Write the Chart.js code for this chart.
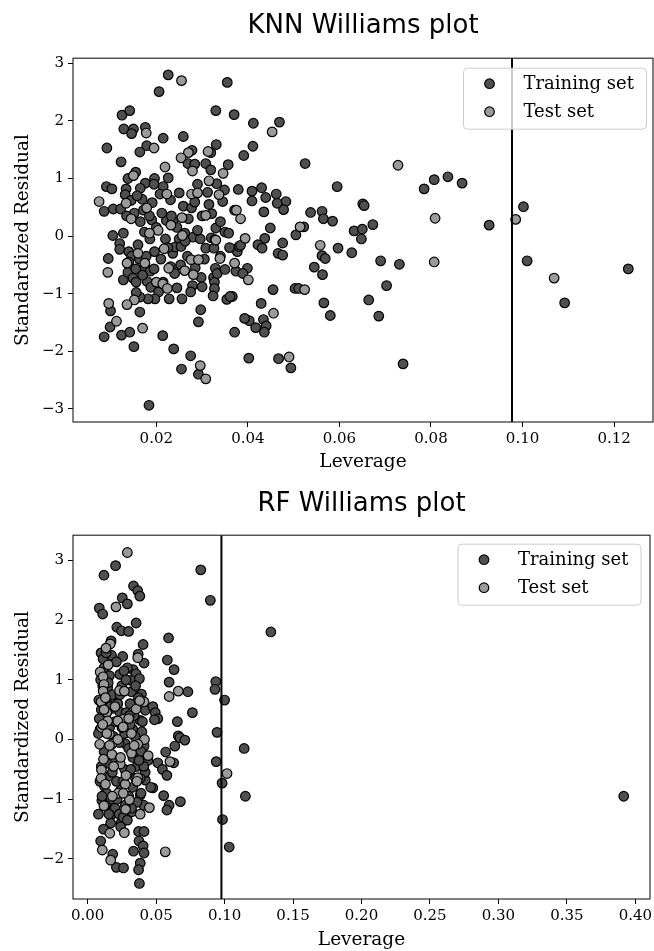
<!DOCTYPE html>
<html>
<head>
<meta charset="utf-8">
<script src="https://cdn.jsdelivr.net/npm/chart.js@4.4.1/dist/chart.umd.min.js"></script>
<style>
  html, body { margin: 0; padding: 0; background: #fff; }
  .plot { width: 654px; position: relative; }
  canvas { display: block; }
</style>
</head>
<body>
<div class="plot"><canvas id="knn" width="654" height="475"></canvas></div>
<div class="plot"><canvas id="rf" width="654" height="476"></canvas></div>
<script>
// leverage threshold h* (same for both models)
let hStar = 0.0977;

// ---- KNN Williams plot ----
const knnTraining = [
  [0.0226,2.80],[0.0355,2.67],[0.0206,2.51],[0.0125,2.10],[0.0142,2.18],[0.0330,2.18],[0.0370,2.11],[0.0412,1.96],
  [0.0469,1.98],[0.0129,1.86],[0.0150,1.86],[0.0146,1.78],[0.0176,1.89],[0.0215,1.70],[0.0259,1.73],[0.0092,1.53],
  [0.0179,1.57],[0.0164,1.46],[0.0278,1.49],[0.0331,1.59],[0.0319,1.45],[0.0411,1.56],[0.0391,1.40],[0.0123,1.29],
  [0.0269,1.26],[0.0284,1.25],[0.0308,1.26],[0.0357,1.24],[0.0525,1.26],[0.0155,1.11],[0.0319,1.15],[0.0138,1.00],
  [0.0196,1.00],[0.0226,1.01],[0.0091,0.86],[0.0103,0.82],[0.0134,0.82],[0.0176,0.92],[0.0165,0.83],[0.0195,0.90],
  [0.0215,0.86],[0.0332,0.91],[0.0349,0.80],[0.0379,0.81],[0.0409,0.78],[0.0430,0.84],[0.0409,0.61],[0.0595,0.86],
  [0.0785,0.82],[0.0807,0.98],[0.0837,1.03],[0.0868,0.92],[0.0086,0.43],[0.0106,0.47],[0.0132,0.72],[0.0169,0.64],
  [0.0191,0.58],[0.0208,0.73],[0.0231,0.63],[0.0259,0.52],[0.0277,0.49],[0.0284,0.59],[0.0312,0.76],[0.0371,0.45],
  [0.0439,0.67],[0.0462,0.73],[0.0483,0.60],[0.0478,0.46],[0.0464,0.57],[0.0435,0.42],[0.0537,0.41],[0.0562,0.43],
  [0.0565,0.30],[0.0585,0.26],[0.0651,0.56],[0.0654,0.53],[0.0927,0.19],[0.1002,0.51],[0.0122,0.47],[0.0152,0.40],
  [0.0135,0.35],[0.0165,0.25],[0.0190,0.28],[0.0222,0.27],[0.0236,0.27],[0.0233,0.35],[0.0321,0.39],[0.0330,0.14],
  [0.0350,0.07],[0.0358,0.05],[0.0449,0.14],[0.0522,0.16],[0.0505,0.02],[0.0632,0.09],[0.0650,0.12],[0.0673,0.20],
  [0.0105,0.01],[0.0174,0.07],[0.0186,-0.05],[0.0220,-0.05],[0.0250,-0.05],[0.0280,-0.02],[0.0296,-0.05],[0.0320,-0.03],
  [0.0437,-0.04],[0.0648,-0.05],[0.0120,-0.13],[0.0120,-0.23],[0.0095,-0.39],[0.0140,-0.27],[0.0146,-0.35],[0.0128,-0.76],
  [0.0138,-0.63],[0.0155,-0.57],[0.0149,-0.73],[0.0156,-0.80],[0.0175,-0.53],[0.0180,-0.79],[0.0187,-0.61],[0.0188,-0.89],
  [0.0163,-0.40],[0.0196,-0.27],[0.0195,-0.57],[0.0205,-0.97],[0.0236,-0.30],[0.0231,-0.53],[0.0241,-0.19],[0.0254,-0.18],
  [0.0263,-0.09],[0.0253,-0.50],[0.0279,-0.86],[0.0275,-0.97],[0.0298,-0.72],[0.0308,-0.21],[0.0326,-0.21],[0.0329,-0.56],
  [0.0325,-0.72],[0.0327,-0.80],[0.0327,-0.91],[0.0324,-1.04],[0.0333,-0.65],[0.0350,-0.58],[0.0374,-0.61],[0.0377,-0.27],
  [0.0381,-0.18],[0.0384,-0.16],[0.0399,-0.56],[0.0389,-0.65],[0.0422,-0.15],[0.0431,-0.21],[0.0366,-1.05],[0.0354,-1.10],
  [0.0361,-1.05],[0.0455,-0.93],[0.0466,-0.30],[0.0476,-0.33],[0.0476,-0.12],[0.0545,-0.54],[0.0562,-0.34],[0.0569,-0.39],
  [0.0563,-0.67],[0.0597,-0.21],[0.0627,-0.29],[0.0690,-0.43],[0.0731,-0.49],[0.1010,-0.43],[0.0503,-0.91],[0.0511,-0.91],
  [0.0703,-0.86],[0.1231,-0.57],[0.1092,-1.16],[0.0664,-1.11],[0.0566,-1.16],[0.0686,-1.39],[0.0580,-1.38],[0.0429,-1.17],
  [0.0434,-1.45],[0.0440,-1.56],[0.0436,-1.67],[0.0417,-1.59],[0.0403,-1.47],[0.0393,-1.43],[0.0371,-1.67],[0.0297,-1.28],
  [0.0292,-1.49],[0.0256,-1.09],[0.0228,-1.09],[0.0197,-1.09],[0.0182,-1.09],[0.0164,-1.06],[0.0156,-0.98],[0.0100,-1.30],
  [0.0099,-1.58],[0.0164,-1.32],[0.0086,-1.75],[0.0124,-1.72],[0.0142,-1.67],[0.0151,-1.92],[0.0214,-1.73],[0.0238,-1.96],
  [0.0275,-2.08],[0.0292,-2.40],[0.0255,-2.31],[0.0402,-2.12],[0.0467,-2.13],[0.0494,-2.29],[0.0739,-2.22],[0.0184,-2.94],
  [0.0145,0.62],[0.0158,0.70],[0.0172,0.45],[0.0185,0.35],[0.0200,0.15],[0.0212,0.40],[0.0245,0.15],[0.0262,0.05],
  [0.0270,0.30],[0.0290,0.10],[0.0300,0.35],[0.0315,0.55],[0.0340,0.25],[0.0345,0.60],[0.0160,-0.15],[0.0178,-0.35],
  [0.0210,-0.40],[0.0225,-0.20],[0.0240,-0.65],[0.0268,-0.35],[0.0285,-0.55],[0.0305,-0.40],[0.0340,-0.35],[0.0360,-0.20],
  [0.0170,-0.68],[0.0215,-0.80],[0.0245,-0.90],[0.0300,-0.88],[0.0140,-0.45],[0.0128,0.05],[0.0250,0.75],[0.0290,0.90]
];
const knnTest = [
  [0.0255,2.70],[0.0178,1.79],[0.0453,1.81],[0.0195,1.53],[0.0270,1.45],[0.0313,1.47],[0.0254,1.36],[0.0728,1.23],
  [0.0219,1.20],[0.0279,1.13],[0.0150,1.05],[0.0346,1.09],[0.0315,0.96],[0.0075,0.60],[0.0134,0.57],[0.0179,0.49],
  [0.0223,0.73],[0.0277,0.73],[0.0290,0.75],[0.0337,0.72],[0.0375,0.45],[0.0384,0.30],[0.0809,0.31],[0.0985,0.29],
  [0.0232,0.19],[0.0256,0.32],[0.0308,0.36],[0.0514,0.16],[0.0204,0.10],[0.0257,0.01],[0.0328,-0.06],[0.0394,-0.04],
  [0.0094,-0.63],[0.0136,-0.47],[0.0175,-0.47],[0.0200,-0.80],[0.0214,-0.83],[0.0224,-0.91],[0.0217,-0.22],[0.0227,-0.56],
  [0.0262,-0.60],[0.0276,-0.41],[0.0292,-0.41],[0.0281,-0.67],[0.0339,-0.39],[0.0330,-0.07],[0.0371,-0.47],[0.0401,-0.76],
  [0.0558,-0.16],[0.0807,-0.45],[0.0524,-0.93],[0.1069,-0.73],[0.0456,-1.34],[0.0152,-1.11],[0.0136,-1.19],[0.0096,-1.17],
  [0.0113,-1.48],[0.0170,-1.60],[0.0296,-2.25],[0.0308,-2.48],[0.0490,-2.10],[0.0145,0.30],[0.0185,0.05],[0.0160,-0.30]
];
const knnXTicks = [0.02, 0.04, 0.06, 0.08, 0.10, 0.12];
const knnYTicks = [-3, -2, -1, 0, 1, 2, 3];

// ---- RF Williams plot ----
const rfTraining = [
  [0.0204,2.91],[0.0119,2.75],[0.0826,2.84],[0.0335,2.57],[0.0366,2.49],[0.0381,2.40],[0.0253,2.37],[0.0290,2.27],
  [0.0896,2.33],[0.0085,2.20],[0.0110,2.10],[0.0354,1.95],[0.0213,1.88],[0.0247,1.82],[0.0299,1.81],[0.1338,1.80],
  [0.0591,1.70],[0.0405,1.59],[0.0171,1.65],[0.0098,1.45],[0.0113,1.35],[0.0174,1.41],[0.0256,1.39],[0.0369,1.43],
  [0.0412,1.28],[0.0582,1.33],[0.0631,1.17],[0.0159,1.07],[0.0235,1.09],[0.0332,1.17],[0.0354,1.10],[0.0317,0.99],
  [0.0378,1.02],[0.0595,0.96],[0.0936,0.97],[0.0930,0.84],[0.0146,0.87],[0.0320,0.80],[0.0393,0.76],[0.0732,0.80],
  [0.1000,0.66],[0.0082,0.66],[0.0183,0.70],[0.0183,0.52],[0.0421,0.49],[0.0476,0.55],[0.0494,0.45],[0.0512,0.35],
  [0.0488,0.33],[0.0765,0.45],[0.0655,0.30],[0.0235,0.46],[0.0384,0.32],[0.0091,0.17],[0.0329,0.17],[0.0396,0.13],
  [0.0945,0.12],[0.0079,0.10],[0.0662,0.06],[0.0674,0.03],[0.0710,-0.01],[0.0274,-0.07],[0.0412,-0.11],[0.0637,-0.11],
  [0.1143,-0.15],[0.0570,-0.21],[0.0512,-0.39],[0.0628,-0.39],[0.0939,-0.37],[0.0546,-0.50],[0.0579,-0.60],[0.0982,-0.73],
  [0.1152,-0.95],[0.3915,-0.95],[0.0165,-0.61],[0.0421,-0.68],[0.0476,-0.81],[0.0122,-0.78],[0.0384,-0.93],[0.0104,-1.02],
  [0.0171,-1.10],[0.0409,-1.10],[0.0555,-0.94],[0.0595,-1.10],[0.0579,-1.18],[0.0677,-1.04],[0.0079,-1.25],[0.0183,-1.24],
  [0.0323,-1.21],[0.0168,-1.40],[0.0244,-1.40],[0.0116,-1.50],[0.0241,-1.46],[0.0372,-1.54],[0.0412,-1.54],[0.0985,-1.34],
  [0.1034,-1.80],[0.0095,-1.70],[0.0375,-1.70],[0.0405,-1.78],[0.0183,-1.92],[0.0335,-1.87],[0.0412,-1.90],[0.0384,-2.07],
  [0.0210,-2.14],[0.0262,-2.15],[0.0372,-2.18],[0.0378,-2.41],
  [0.0120,1.20],[0.0150,0.95],[0.0180,0.75],[0.0220,0.60],[0.0250,0.90],[0.0280,1.00],[0.0310,0.60],[0.0340,0.40],
  [0.0370,0.70],[0.0400,0.30],[0.0130,0.35],[0.0160,0.20],[0.0190,0.05],[0.0230,-0.05],[0.0270,0.10],[0.0300,-0.15],
  [0.0330,-0.30],[0.0360,-0.45],[0.0390,-0.20],[0.0420,-0.55],[0.0120,-0.20],[0.0150,-0.40],[0.0180,-0.55],[0.0210,-0.70],
  [0.0240,-0.85],[0.0270,-0.50],[0.0300,-0.95],[0.0330,-0.80],[0.0360,-1.05],[0.0390,-0.90],[0.0140,-0.90],[0.0170,-1.00],
  [0.0200,-1.15],[0.0230,-1.25],[0.0260,-1.30],[0.0290,-1.35],[0.0320,-1.15],[0.0100,0.50],[0.0100,-0.45],[0.0200,0.30],
  [0.0280,0.45],[0.0350,0.90],[0.0440,-0.35],[0.0460,-0.80],[0.0110,0.90],[0.0140,0.60],[0.0210,1.30],[0.0290,1.20],
  [0.0250,0.20],[0.0310,0.25],[0.0090,-0.70],[0.0130,-1.10],[0.0260,-0.70],[0.0350,-0.65],[0.0410,-0.45],[0.0220,-0.35],
  [0.0095,1.00],[0.0135,1.45],[0.0165,0.55],[0.0235,0.75],[0.0265,1.15],[0.0305,0.40],[0.0345,0.05],[0.0375,-0.35],
  [0.0105,-0.95],[0.0155,-1.25],[0.0215,-1.00],[0.0275,-1.10],[0.0315,-0.50],[0.0385,-0.65],[0.0085,0.35],[0.0195,-0.30]
];
const rfTest = [
  [0.0290,3.13],[0.0207,2.22],[0.0165,1.60],[0.0134,1.53],[0.0366,1.37],[0.0091,1.13],[0.0113,1.05],[0.0119,0.92],
  [0.0113,0.81],[0.0232,0.82],[0.0268,0.81],[0.0595,0.72],[0.0662,0.81],[0.0098,0.63],[0.0412,0.63],[0.0354,0.51],
  [0.0140,0.45],[0.0259,0.34],[0.0146,0.31],[0.0220,0.31],[0.0101,0.20],[0.0259,0.21],[0.0159,0.09],[0.0415,0.00],
  [0.0088,-0.08],[0.0177,-0.08],[0.0366,-0.08],[0.0442,-0.27],[0.0177,-0.25],[0.0320,-0.23],[0.0116,-0.33],[0.0238,-0.41],
  [0.0601,-0.37],[0.1018,-0.57],[0.0101,-0.51],[0.0098,-0.65],[0.0274,-0.75],[0.0366,-0.64],[0.0223,-0.90],[0.0305,-1.01],
  [0.0119,-1.11],[0.0277,-1.17],[0.0384,-1.25],[0.0451,-1.14],[0.0268,-1.56],[0.0162,-1.57],[0.0107,-1.85],[0.0567,-1.88],
  [0.0168,-2.02],
  [0.0120,0.50],[0.0140,0.10],[0.0160,-0.10],[0.0200,0.55],[0.0240,-0.30],[0.0280,-0.60],[0.0320,0.10],[0.0360,-0.70],
  [0.0130,-0.75],[0.0180,-0.95],[0.0220,0.00],[0.0260,-0.90],[0.0300,0.35],[0.0340,-0.10],[0.0380,0.65],[0.0150,1.25],
  [0.0110,0.25],[0.0190,-0.45],[0.0130,0.70]
];
const rfXTicks = [0.00, 0.05, 0.10, 0.15, 0.20, 0.25, 0.30, 0.35, 0.40];
const rfYTicks = [-2, -1, 0, 1, 2, 3];

const seriesNames = ['Training set', 'Test set'];
const trainColor = '#4f4f4f';
const testColor = '#9a9a9a';

function toPoints(arr) {
  return arr.map(p => ({x: p[0], y: p[1]}));
}

function fmtMinus(s) {
  return s.replace('-', '\u2212');
}

// frame (all four spines) + legend box in the upper right
const frameAndLegend = {
  id: 'frameAndLegend',
  afterDatasetsDraw(chart, args, opts) {
    const ctx = chart.ctx;
    const a = chart.chartArea;
    ctx.save();
    ctx.strokeStyle = '#1a1a1a';
    ctx.lineWidth = 1.1;
    ctx.strokeRect(a.left, a.top, a.right - a.left, a.bottom - a.top);

    // legend
    const w = 183, h = 61;
    const bx = a.right - opts.right - w;
    const by = a.top + opts.top;
    ctx.beginPath();
    ctx.roundRect(bx, by, w, h, 4);
    ctx.fillStyle = 'rgba(255,255,255,0.8)';
    ctx.fill();
    ctx.strokeStyle = '#cccccc';
    ctx.lineWidth = 1;
    ctx.stroke();

    const colors = [trainColor, testColor];
    ctx.font = '18px "DejaVu Serif"';
    ctx.textBaseline = 'middle';
    ctx.textAlign = 'left';
    for (let i = 0; i < 2; i++) {
      const ry = by + 15.5 + i * 28;
      ctx.beginPath();
      ctx.arc(bx + 26, ry, 4.8, 0, Math.PI * 2);
      ctx.fillStyle = colors[i];
      ctx.fill();
      ctx.lineWidth = 1.2;
      ctx.strokeStyle = '#000';
      ctx.stroke();
      ctx.fillStyle = '#000';
      ctx.fillText(seriesNames[i], bx + 60, ry + 1);
    }
    ctx.restore();
  }
};

function makePlot(id, title, training, test, xTicks, yTicks, lim, pad) {
  const ctx = document.getElementById(id).getContext('2d');
  return new Chart(ctx, {
    type: 'scatter',
    data: {
      datasets: [
        {
          type: 'line',
          label: 'h*',
          data: [{x: hStar, y: lim.ymin}, {x: hStar, y: lim.ymax}],
          borderColor: '#000',
          borderWidth: 2,
          pointRadius: 0,
          fill: false
        },
        {
          label: seriesNames[1],
          data: toPoints(test),
          backgroundColor: testColor,
          borderColor: '#000',
          borderWidth: 1.2,
          pointRadius: 4.8
        },
        {
          label: seriesNames[0],
          data: toPoints(training),
          backgroundColor: trainColor,
          borderColor: '#000',
          borderWidth: 1.2,
          pointRadius: 4.8
        }
      ]
    },
    options: {
      responsive: false,
      animation: false,
      devicePixelRatio: 1,
      layout: { autoPadding: false, padding: { left: 0, right: pad.right, top: 0, bottom: 0 } },
      plugins: {
        legend: { display: false },
        tooltip: { enabled: false },
        title: {
          display: true,
          fullSize: false,
          text: title,
          color: '#000',
          font: { family: '"DejaVu Sans"', size: 26, weight: 'normal' },
          padding: { top: pad.titleTop, bottom: pad.titleBottom }
        },
        frameAndLegend: { right: pad.legRight, top: pad.legTop }
      },
      scales: {
        x: {
          type: 'linear',
          min: lim.xmin,
          max: lim.xmax,
          afterBuildTicks: s => { s.ticks = xTicks.map(v => ({value: v})); },
          afterFit: s => { s.height = pad.xh; s.paddingLeft = 0; s.paddingRight = 0; },
          grid: { display: true, drawOnChartArea: false, drawTicks: true, tickLength: 5, color: '#000' },
          border: { display: false },
          ticks: {
            color: '#000',
            padding: 3,
            maxRotation: 0,
            font: { family: '"DejaVu Serif"', size: 15 },
            callback: v => v.toFixed(2)
          },
          title: {
            display: true,
            text: 'Leverage',
            color: '#000',
            font: { family: '"DejaVu Serif"', size: 18.5 },
            padding: { top: 0, bottom: pad.xTitleBottom }
          }
        },
        y: {
          type: 'linear',
          min: lim.ymin,
          max: lim.ymax,
          afterBuildTicks: s => { s.ticks = yTicks.map(v => ({value: v})); },
          afterFit: s => { s.width = 73; s.paddingTop = 0; s.paddingBottom = 0; },
          grid: { display: true, drawOnChartArea: false, drawTicks: true, tickLength: 5, color: '#000' },
          border: { display: false },
          ticks: {
            color: '#000',
            padding: 4,
            font: { family: '"DejaVu Serif"', size: 15 },
            callback: v => fmtMinus(String(v))
          },
          title: {
            display: true,
            text: 'Standardized Residual',
            color: '#000',
            font: { family: '"DejaVu Serif"', size: 18.5 },
            padding: { top: 12, bottom: 0 }
          }
        }
      }
    },
    plugins: [frameAndLegend]
  });
}

makePlot('knn', 'KNN Williams plot', knnTraining, knnTest, knnXTicks, knnYTicks,
  { xmin: 0.0018, xmax: 0.1285, ymin: -3.23, ymax: 3.09 },
  { right: 1, titleTop: 10.5, titleBottom: 16.5, xh: 53, xTitleBottom: 1.5, legRight: 6.5, legTop: 10 });

makePlot('rf', 'RF Williams plot', rfTraining, rfTest, rfXTicks, rfYTicks,
  { xmin: -0.0107, xmax: 0.4107, ymin: -2.67, ymax: 3.42 },
  { right: 4, titleTop: 13.5, titleBottom: 15.5, xh: 52, xTitleBottom: 0, legRight: 9, legTop: 9 });
</script>
</body>
</html>
